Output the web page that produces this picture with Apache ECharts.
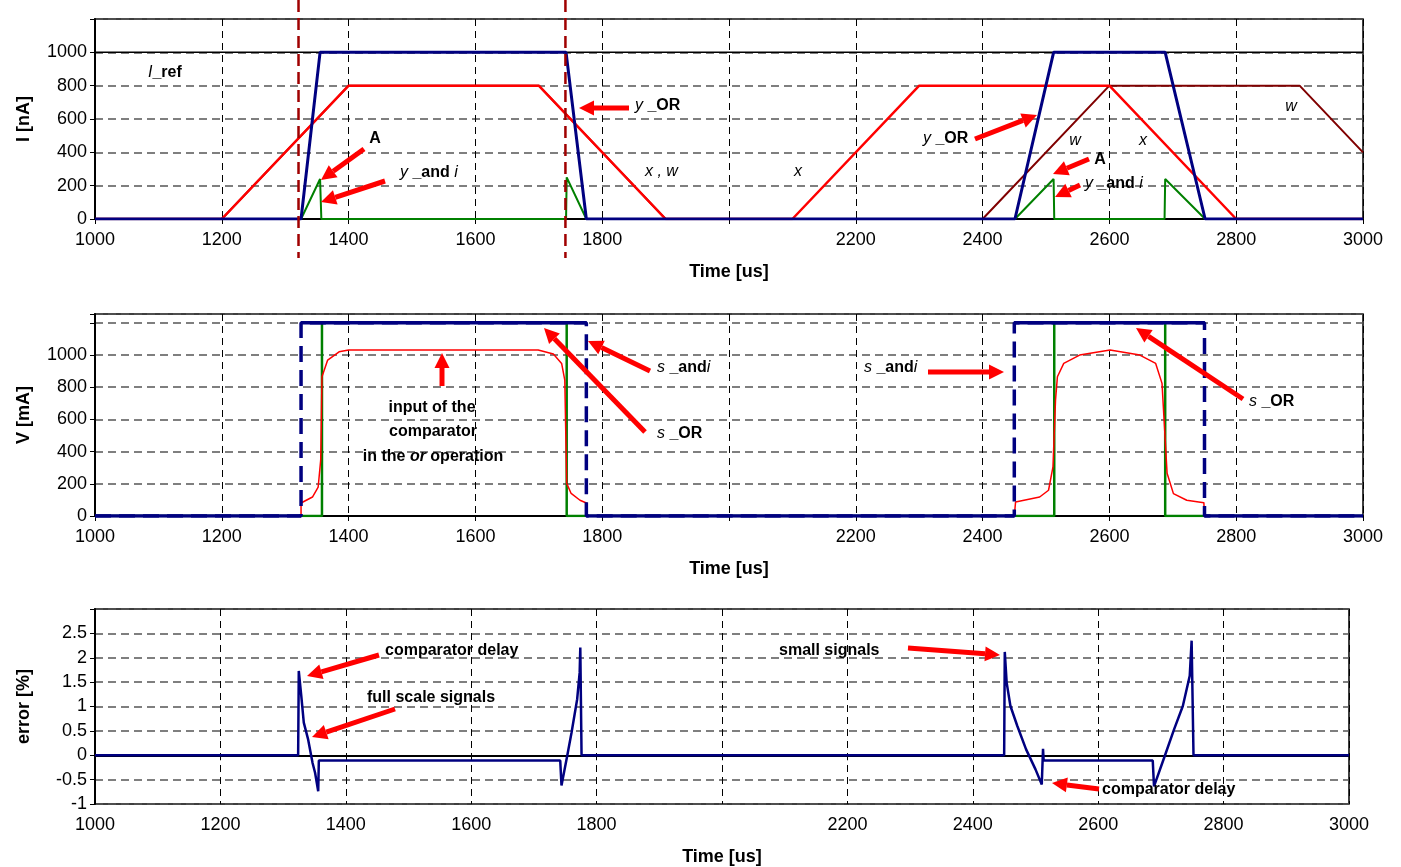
<!DOCTYPE html>
<html lang="en">
<head>
<meta charset="UTF-8">
<title>comparator signals</title>
<script src="https://cdn.jsdelivr.net/npm/echarts@6/dist/echarts.min.js"></script>
<style>
  html, body { margin: 0; padding: 0; background: #fff; }
  #main { width: 1401px; height: 867px; }
</style>
</head>
<body>
<div id="main"></div>
<script>
// time [us] vs. value pairs

// top panel: currents [nA]
var iRef   = [[1000, 1000], [3000, 1000]];
var xIn    = [[1000, 0], [1200, 0], [1400, 800], [1700, 800], [1900, 0], [2100, 0], [2300, 800], [2600, 800], [2800, 0], [3000, 0]];
var wIn    = [[1000, 0], [1200, 0], [1400, 800], [1700, 800], [1900, 0], [2400, 0], [2600, 800], [2900, 800], [3000, 400]];
var yOr    = [[1000, 0], [1325, 0], [1355, 1000], [1743, 1000], [1775, 0], [2451, 0], [2512, 1000], [2688, 1000], [2751, 0], [3000, 0]];
var yAndI  = [[1000, 0], [1325, 0], [1355, 240], [1357, 0], [1743, 0], [1744, 250], [1775, 0], [2451, 0], [2512, 240], [2513, 0], [2687, 0], [2688, 240], [2751, 0], [3000, 0]];

// middle panel: voltages [mA]
var sPulse = [[1000, 0], [1325, 0], [1325, 1200], [1775, 1200], [1775, 0], [2450, 0], [2450, 1200], [2750, 1200], [2750, 0], [3000, 0]];
var cmpOut = [[1000, 0], [1358, 0], [1358, 1200], [1744, 1200], [1744, 0], [2513, 0], [2513, 1200], [2688, 1200], [2688, 0], [3000, 0]];
var cmpIn  = [[1000, 0], [1325, 0], [1325, 81], [1343, 118], [1352, 180], [1356, 347], [1358, 865], [1367, 969], [1385, 1020], [1400, 1031],
              [1699, 1031], [1723, 1006], [1736, 948], [1741, 844], [1744, 203], [1751, 140], [1765, 98], [1775, 81], [1775, 0],
              [2450, 0], [2452, 87], [2490, 118], [2504, 160], [2511, 305], [2515, 720], [2518, 865], [2528, 948], [2553, 1000], [2601, 1031],
              [2648, 1000], [2673, 948], [2683, 824], [2691, 265], [2701, 139], [2722, 98], [2749, 83], [2750, 0], [3000, 0]];

// bottom panel: error [%]
var errPct = [[1000, 0], [1324, 0], [1325, 1.73], [1329, 1.22], [1333, 0.67], [1340, 0.32], [1347, -0.16], [1351, -0.36], [1356, -0.74],
              [1357, -0.11], [1742, -0.11], [1744, -0.62], [1753, -0.02], [1760, 0.46], [1769, 1.15], [1773, 1.70], [1774, 2.21], [1776, 0],
              [2450, 0], [2451, 2.12], [2454, 1.49], [2460, 1.01], [2471, 0.60], [2485, 0.12], [2500, -0.29], [2510, -0.60], [2512, 0.13],
              [2513, -0.11], [2687, -0.11], [2689, -0.64], [2706, -0.02], [2721, 0.53], [2735, 1.01], [2746, 1.63], [2749, 2.35], [2752, 0], [3000, 0]];

var cutTimes = [1321, 1742];   // dark red dashed markers

// solid s_OR: plateaus only, vertical edges left to the dashed trace
function plateaus(pts) {
  var out = [pts[0]];
  for (var i = 1; i < pts.length; i++) {
    if (pts[i][0] === pts[i - 1][0]) out.push([pts[i][0], '-']);
    out.push(pts[i]);
  }
  return out;
}

var FONT = '"Liberation Sans", Arial, sans-serif';
var RED = '#ff0000', BLUE = '#000080', GREEN = '#008000', DRED = '#800000';

function xAx(i) {
  return {
    type: 'value', gridIndex: i, min: 1000, max: 3000, interval: 200,
    name: 'Time [us]', nameLocation: 'middle', nameGap: 44,
    nameTextStyle: { fontFamily: FONT, fontSize: 18, fontWeight: 'bold', color: '#000' },
    axisLine: { lineStyle: { color: '#000', width: 2 } },
    axisTick: { show: true, length: 5, lineStyle: { color: '#000' } },
    axisLabel: { fontFamily: FONT, fontSize: 18, color: '#000', margin: 12,
      formatter: function (v) { return v === 2000 ? '' : v; } },
    splitLine: { show: true, lineStyle: { color: '#000', width: 1, type: [7, 5] } }
  };
}
function yAx(i, name, min, max, interval, top) {
  return {
    type: 'value', gridIndex: i, min: min, max: max, interval: interval,
    name: name, nameLocation: 'middle', nameGap: 62,
    nameTextStyle: { fontFamily: FONT, fontSize: 18, fontWeight: 'bold', color: '#000' },
    axisLine: { show: true, lineStyle: { color: '#000', width: 2 } },
    axisTick: { show: true, length: 5, lineStyle: { color: '#000' } },
    axisLabel: { fontFamily: FONT, fontSize: 18, color: '#000', margin: 8,
      formatter: function (v) { return v > top ? '' : v; } },
    splitLine: { show: true, lineStyle: { color: '#555', width: 1.5, type: [8, 5] } }
  };
}
function line(name, data, xi, color, width, z, dash) {
  return {
    name: name, type: 'line', data: data, xAxisIndex: xi, yAxisIndex: xi,
    showSymbol: false, symbol: 'none', z: z, animation: false,
    lineStyle: { color: color, width: width, type: dash || 'solid' }
  };
}

var chart = echarts.init(document.getElementById('main'));
chart.setOption({
  backgroundColor: '#fff',
  animation: false,
  grid: [
    { left: 95, right: 38, top: 19, height: 200, show: true, borderColor: '#000', borderWidth: 1.5 },
    { left: 95, right: 38, top: 314, height: 202, show: true, borderColor: '#000', borderWidth: 1.5 },
    { left: 95, right: 52, top: 609, height: 195, show: true, borderColor: '#000', borderWidth: 1.5 }
  ],
  xAxis: [xAx(0), xAx(1), xAx(2)],
  yAxis: [
    yAx(0, 'I [nA]', 0, 1200, 200, 1000),
    yAx(1, 'V [mA]', 0, 1255, 200, 1000),
    yAx(2, 'error [%]', -1, 3, 0.5, 2.5)
  ],
  series: [
    line('I_ref', iRef, 0, '#000', 1.5, 2),
    line('w', wIn, 0, DRED, 2, 3),
    line('x', xIn, 0, RED, 2.5, 4),
    line('y_and i', yAndI, 0, GREEN, 2, 5),
    line('y_OR', yOr, 0, BLUE, 3, 6),

    line('comparator output', cmpOut, 1, GREEN, 2.5, 3),
    line('input of the comparator', cmpIn, 1, RED, 1.5, 4),
    line('s_andi', sPulse, 1, BLUE, 3.5, 5, [16, 8]),
    line('s_OR', plateaus(sPulse), 1, BLUE, 3.5, 6),

    line('error', errPct, 2, BLUE, 2.5, 3)
  ]
});

// annotations (pixel positions)
function arrow(x1, y1, x2, y2) {
  var a = Math.atan2(y2 - y1, x2 - x1), L = 15, W = 7.5;
  var bx = x2 - L * Math.cos(a), by = y2 - L * Math.sin(a);
  var s = Math.sin(a), c = Math.cos(a);
  return [
    { type: 'line', silent: true, z: 100, shape: { x1: x1, y1: y1, x2: bx, y2: by }, style: { stroke: RED, lineWidth: 5 } },
    { type: 'polygon', silent: true, z: 100, shape: { points: [[x2, y2], [bx + W * s, by - W * c], [bx - W * s, by + W * c]] }, style: { fill: RED } }
  ];
}
var rich = {
  b: { fontFamily: FONT, fontSize: 16, fontWeight: 'bold', fill: '#000', color: '#000' },
  i: { fontFamily: FONT, fontSize: 16, fontStyle: 'italic', fill: '#000', color: '#000' },
  bi: { fontFamily: FONT, fontSize: 16, fontStyle: 'italic', fontWeight: 'bold', fill: '#000', color: '#000' }
};
function label(txt, x, y, align) {
  return { type: 'text', silent: true, z: 101, style: {
    text: txt, x: x, y: y, textAlign: align || 'left', textVerticalAlign: 'middle', verticalAlign: 'middle',
    rich: rich, font: 'bold 16px ' + FONT, fill: '#000' } };
}

var arrows = [
  [364, 149, 321, 180], [385, 181, 321, 202], [629, 108, 579, 108], [975, 139, 1037, 115],
  [1089, 159, 1053, 174], [1080, 185, 1055, 197],
  [442, 386, 442, 353], [645, 432, 544, 328], [650, 371, 588, 341], [928, 372, 1004, 372], [1243, 399, 1136, 328],
  [379, 655, 307, 676], [395, 709, 312, 737], [908, 648, 1000, 655], [1099, 789, 1052, 783]
];
var texts = [
  ['{i|I}{b|_ref}', 148, 73],
  ['{b|A}', 375, 139, 'center'],
  ['{i|y }{b|_and }{i|i}', 400, 173],
  ['{i|y }{b|_OR}', 635, 106],
  ['{i|x , w}', 645, 172],
  ['{i|x}', 798, 172, 'center'],
  ['{i|y }{b|_OR}', 923, 139],
  ['{i|w}', 1075, 141, 'center'],
  ['{i|x}', 1143, 141, 'center'],
  ['{b|A}', 1100, 160, 'center'],
  ['{i|y }{b|_and }{i|i}', 1085, 184],
  ['{i|w}', 1291, 107, 'center'],
  ['{b|input of the}', 432, 408, 'center'],
  ['{b|comparator}', 433, 432, 'center'],
  ['{b|in the }{bi|or}{b| operation}', 433, 457, 'center'],
  ['{i|s }{b|_and}{i|i}', 657, 368],
  ['{i|s }{b|_OR}', 657, 434],
  ['{i|s }{b|_and}{i|i}', 864, 368],
  ['{i|s }{b|_OR}', 1249, 402],
  ['{b|comparator delay}', 385, 651],
  ['{b|full scale signals}', 367, 698],
  ['{b|small signals}', 779, 651],
  ['{b|comparator delay}', 1102, 790]
];

var gfx = [];
cutTimes.forEach(function (t) {
  var px = chart.convertToPixel({ xAxisIndex: 0, yAxisIndex: 0 }, [t, 0])[0];
  gfx.push({ type: 'line', silent: true, z: 99, shape: { x1: px, y1: 0, x2: px, y2: 258 },
    style: { stroke: '#a00000', lineWidth: 2.5, lineDash: [12, 6] } });
});
arrows.forEach(function (a) { gfx = gfx.concat(arrow(a[0], a[1], a[2], a[3])); });
texts.forEach(function (t) { gfx.push(label(t[0], t[1], t[2], t[3])); });
chart.setOption({ graphic: gfx });
</script>
</body>
</html>
